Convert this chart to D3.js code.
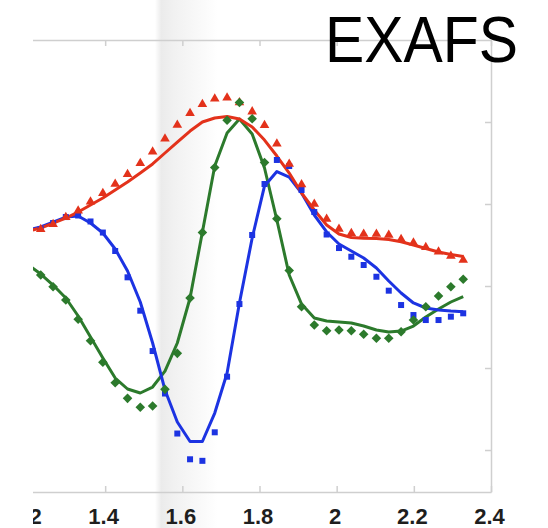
<!DOCTYPE html>
<html>
<head>
<meta charset="utf-8">
<script src="https://cdn.jsdelivr.net/npm/d3@7"></script>
<style>
  html, body { margin: 0; padding: 0; background: #fff; }
  svg { display: block; }
</style>
</head>
<body>
<div id="chart"></div>
<script>
// shared abscissa of all samples (R, Angstrom)
const rGrid = [1.201, 1.233, 1.265, 1.298, 1.330, 1.362, 1.394, 1.426, 1.458, 1.491,
  1.523, 1.555, 1.587, 1.620, 1.652, 1.684, 1.716, 1.748, 1.781, 1.813,
  1.845, 1.877, 1.909, 1.942, 1.974, 2.006, 2.038, 2.070, 2.103, 2.135,
  2.167, 2.199, 2.231, 2.264, 2.296, 2.328];

// red: triangles = data, line = fit
const redData = [0.646, 0.691, 0.752, 0.838, 0.918, 1.028, 1.130, 1.244, 1.362, 1.496,
  1.638, 1.795, 1.963, 2.106, 2.217, 2.284, 2.295, 2.238, 2.126, 1.960,
  1.734, 1.488, 1.238, 1.000, 0.817, 0.695, 0.643, 0.634, 0.634, 0.622,
  0.570, 0.528, 0.472, 0.418, 0.366, 0.317];
const redFit = [0.671, 0.707, 0.768, 0.829, 0.902, 0.988, 1.073, 1.171, 1.268, 1.378,
  1.488, 1.622, 1.756, 1.890, 2.000, 2.049, 2.067, 2.037, 1.939, 1.780,
  1.585, 1.378, 1.134, 0.927, 0.744, 0.634, 0.591, 0.582, 0.579, 0.567,
  0.540, 0.500, 0.457, 0.415, 0.384, 0.360];

// blue: squares = data, line = fit
const blueData = [0.683, 0.695, 0.768, 0.841, 0.860, 0.787, 0.652, 0.427, 0.106, -0.301,
  -0.793, -1.311, -1.799, -2.113, -2.132, -1.784, -1.106, -0.220, 0.622, 1.244,
  1.537, 1.463, 1.171, 0.902, 0.628, 0.463, 0.357, 0.256, 0.113, -0.057,
  -0.232, -0.354, -0.415, -0.415, -0.374, -0.333];
const blueFit = [0.683, 0.720, 0.780, 0.841, 0.854, 0.768, 0.646, 0.451, 0.183, -0.195,
  -0.695, -1.268, -1.659, -1.896, -1.896, -1.549, -1.061, -0.207, 0.585, 1.220,
  1.396, 1.329, 1.134, 0.866, 0.659, 0.512, 0.427, 0.341, 0.220, 0.061,
  -0.085, -0.207, -0.268, -0.293, -0.305, -0.313];

// green: diamonds = data, line = fit
const greenData = [0.256, 0.134, -0.009, -0.171, -0.406, -0.667, -0.930, -1.179, -1.370, -1.479,
  -1.463, -1.260, -0.821, -0.146, 0.652, 1.445, 2.021, 2.238, 2.040, 1.506,
  0.821, 0.189, -0.252, -0.476, -0.545, -0.537, -0.545, -0.589, -0.638, -0.638,
  -0.557, -0.415, -0.252, -0.122, -0.009, 0.082];
const greenFit = [0.256, 0.146, 0.012, -0.146, -0.366, -0.622, -0.878, -1.122, -1.256, -1.305,
  -1.232, -1.037, -0.695, -0.146, 0.659, 1.463, 1.866, 2.037, 1.854, 1.439,
  0.805, 0.134, -0.220, -0.390, -0.427, -0.439, -0.451, -0.488, -0.537, -0.561,
  -0.549, -0.488, -0.378, -0.280, -0.195, -0.128];

const xTicks = [1.2, 1.4, 1.6, 1.8, 2.0, 2.2, 2.4];
const yTicks = [-2, -1, 0, 1, 2];

const width = 548;
const height = 528;
const plot = { left: 33, right: 491, top: 40, bottom: 492 };

const svg = d3.select("#chart")
  .append("svg")
  .attr("width", width)
  .attr("height", height);

const defs = svg.append("defs");

// soft grey band behind the plot (the original is a cut-out of a larger figure)
const band = defs.append("linearGradient")
  .attr("id", "band")
  .attr("gradientUnits", "userSpaceOnUse")
  .attr("x1", 155).attr("x2", 218).attr("y1", 0).attr("y2", 0);
band.append("stop").attr("offset", "0%").attr("stop-color", "#fff");
band.append("stop").attr("offset", "10%").attr("stop-color", "#ebebeb");
band.append("stop").attr("offset", "30%").attr("stop-color", "#f1f1f1");
band.append("stop").attr("offset", "65%").attr("stop-color", "#f8f8f8");
band.append("stop").attr("offset", "100%").attr("stop-color", "#fff");

defs.append("clipPath").attr("id", "leftcut")
  .append("rect")
  .attr("x", plot.left).attr("y", 0)
  .attr("width", width - plot.left).attr("height", height);

svg.append("rect")
  .attr("x", 155).attr("y", 0)
  .attr("width", 63).attr("height", height)
  .attr("fill", "url(#band)");

const root = svg.append("g").attr("clip-path", "url(#leftcut)");

const x = d3.scaleLinear()
  .domain([1.2, 2.4])
  .range([28, plot.right]);

const y = d3.scaleLinear()
  .domain([-2.512, 3])
  .range([plot.bottom, plot.top]);

const axisColor = "#cfcfcf";

// bottom axis with labels
root.append("g")
  .attr("transform", `translate(0, ${plot.bottom})`)
  .call(d3.axisBottom(x).tickValues(xTicks).tickSize(-6).tickSizeOuter(0).tickPadding(16)
    .tickFormat((d) => d3.format("~g")(d)))
  .call((g) => g.select(".domain").attr("stroke", axisColor).attr("stroke-width", 1.5))
  .call((g) => g.selectAll(".tick line").attr("stroke", axisColor).attr("stroke-width", 1.5))
  .call((g) => g.selectAll(".tick text")
    .attr("fill", "#1e1e1e")
    .attr("dx", "-2")
    .style("font-family", "'Liberation Sans', Arial, sans-serif")
    .style("font-weight", "bold")
    .style("font-size", "22px"));

// top axis, no labels
root.append("g")
  .attr("transform", `translate(0, ${plot.top})`)
  .call(d3.axisTop(x).tickValues(xTicks).tickSize(-6).tickSizeOuter(0).tickFormat(""))
  .call((g) => g.select(".domain").attr("stroke", axisColor).attr("stroke-width", 1.5))
  .call((g) => g.selectAll(".tick line").attr("stroke", axisColor).attr("stroke-width", 1.5));

// right axis, no labels
root.append("g")
  .attr("transform", `translate(${plot.right}, 0)`)
  .call(d3.axisRight(y).tickValues(yTicks).tickSize(-6).tickSizeOuter(0).tickFormat(""))
  .call((g) => g.select(".domain").attr("stroke", axisColor).attr("stroke-width", 1.5))
  .call((g) => g.selectAll(".tick line").attr("stroke", axisColor).attr("stroke-width", 1.5));

const series = [
  { fit: greenFit, data: greenData, color: "#2c7a2c", symbol: "diamond" },
  { fit: blueFit, data: blueData, color: "#1c33e2", symbol: "square" },
  { fit: redFit, data: redData, color: "#e3321b", symbol: "triangle" }
];

const line = d3.line()
  .x((d, i) => x(rGrid[i]))
  .y((d) => y(d));

series.forEach((s) => {
  root.append("path")
    .datum(s.fit)
    .attr("fill", "none")
    .attr("stroke", s.color)
    .attr("stroke-width", 3)
    .attr("stroke-linejoin", "round")
    .attr("d", line);
});

const markers = {
  square: { path: d3.symbol(d3.symbolSquare, 36)(), rotate: 0 },
  triangle: { path: d3.symbol(d3.symbolTriangle, 40)(), rotate: 0 },
  diamond: { path: d3.symbol(d3.symbolSquare, 46)(), rotate: 45 }
};

// blue squares first, then red triangles, then green diamonds on top
[series[1], series[2], series[0]].forEach((s) => {
  root.append("g")
    .selectAll("path")
    .data(s.data)
    .enter()
    .append("path")
    .attr("transform", (d, i) => `translate(${x(rGrid[i])}, ${y(d)}) rotate(${markers[s.symbol].rotate})`)
    .attr("d", markers[s.symbol].path)
    .attr("fill", s.color);
});

svg.append("text")
  .attr("x", 325)
  .attr("y", 62)
  .attr("textLength", 193)
  .attr("lengthAdjust", "spacingAndGlyphs")
  .style("font-family", "'Liberation Sans', Arial, sans-serif")
  .style("font-size", "65px")
  .attr("fill", "#000")
  .text("EXAFS");
</script>
</body>
</html>
